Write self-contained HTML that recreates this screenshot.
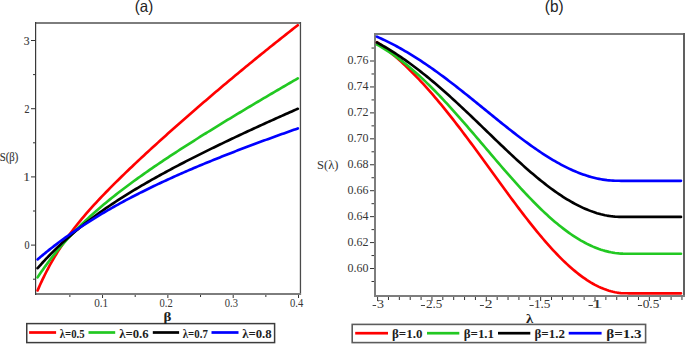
<!DOCTYPE html>
<html><head><meta charset="utf-8"><style>
html,body{margin:0;padding:0;background:#fff;}
body{width:685px;height:344px;overflow:hidden;}
svg{display:block;}
path{fill:none;stroke-width:2.65;stroke-linejoin:round;stroke-linecap:round;}
</style></head><body>
<svg width="685" height="344" viewBox="0 0 685 344">
<rect width="685" height="344" fill="#fff"/>
<rect x="35" y="22" width="266" height="2" fill="#7d7d7d"/>
<rect x="299.8" y="22" width="1.3" height="273" fill="#4a4a4a"/>
<rect x="35" y="293" width="266" height="2" fill="#7d7d7d"/>
<rect x="35" y="22" width="1.2" height="273" fill="#3a3a3a"/>
<rect x="33.0" y="278.70" width="2.0" height="1" fill="#333333"/>
<rect x="31.0" y="244.60" width="4.0" height="1" fill="#333333"/>
<rect x="33.0" y="210.50" width="2.0" height="1" fill="#333333"/>
<rect x="31.0" y="176.40" width="4.0" height="1" fill="#333333"/>
<rect x="33.0" y="142.30" width="2.0" height="1" fill="#333333"/>
<rect x="31.0" y="108.20" width="4.0" height="1" fill="#333333"/>
<rect x="33.0" y="74.10" width="2.0" height="1" fill="#333333"/>
<rect x="31.0" y="40.00" width="4.0" height="1" fill="#333333"/>
<rect x="69.37" y="295" width="1" height="2" fill="#333333"/>
<rect x="102.03" y="295" width="1" height="3" fill="#333333"/>
<rect x="134.69" y="295" width="1" height="2" fill="#333333"/>
<rect x="167.36" y="295" width="1" height="3" fill="#333333"/>
<rect x="200.02" y="295" width="1" height="2" fill="#333333"/>
<rect x="232.69" y="295" width="1" height="3" fill="#333333"/>
<rect x="265.35" y="295" width="1" height="2" fill="#333333"/>
<rect x="298.02" y="295" width="1" height="3" fill="#333333"/>
<rect x="374" y="33" width="311" height="2" fill="#7d7d7d"/>
<rect x="683" y="33" width="2" height="264" fill="#606060"/>
<rect x="374" y="295" width="311" height="2" fill="#7d7d7d"/>
<rect x="374" y="33" width="2" height="264" fill="#7d7d7d"/>
<rect x="371.5" y="280.99" width="2.5" height="1" fill="#333333"/>
<rect x="370.0" y="268.02" width="4.0" height="1" fill="#333333"/>
<rect x="371.5" y="255.05" width="2.5" height="1" fill="#333333"/>
<rect x="370.0" y="242.08" width="4.0" height="1" fill="#333333"/>
<rect x="371.5" y="229.11" width="2.5" height="1" fill="#333333"/>
<rect x="370.0" y="216.14" width="4.0" height="1" fill="#333333"/>
<rect x="371.5" y="203.17" width="2.5" height="1" fill="#333333"/>
<rect x="370.0" y="190.20" width="4.0" height="1" fill="#333333"/>
<rect x="371.5" y="177.23" width="2.5" height="1" fill="#333333"/>
<rect x="370.0" y="164.26" width="4.0" height="1" fill="#333333"/>
<rect x="371.5" y="151.29" width="2.5" height="1" fill="#333333"/>
<rect x="370.0" y="138.32" width="4.0" height="1" fill="#333333"/>
<rect x="371.5" y="125.35" width="2.5" height="1" fill="#333333"/>
<rect x="370.0" y="112.38" width="4.0" height="1" fill="#333333"/>
<rect x="371.5" y="99.41" width="2.5" height="1" fill="#333333"/>
<rect x="370.0" y="86.44" width="4.0" height="1" fill="#333333"/>
<rect x="371.5" y="73.47" width="2.5" height="1" fill="#333333"/>
<rect x="370.0" y="60.50" width="4.0" height="1" fill="#333333"/>
<rect x="371.5" y="47.53" width="2.5" height="1" fill="#333333"/>
<rect x="377.10" y="297" width="1" height="4" fill="#333333"/>
<rect x="387.97" y="297" width="1" height="3" fill="#333333"/>
<rect x="398.84" y="297" width="1" height="3" fill="#333333"/>
<rect x="409.71" y="297" width="1" height="3" fill="#333333"/>
<rect x="420.58" y="297" width="1" height="3" fill="#333333"/>
<rect x="431.45" y="297" width="1" height="4" fill="#333333"/>
<rect x="442.32" y="297" width="1" height="3" fill="#333333"/>
<rect x="453.19" y="297" width="1" height="3" fill="#333333"/>
<rect x="464.06" y="297" width="1" height="3" fill="#333333"/>
<rect x="474.93" y="297" width="1" height="3" fill="#333333"/>
<rect x="485.80" y="297" width="1" height="4" fill="#333333"/>
<rect x="496.67" y="297" width="1" height="3" fill="#333333"/>
<rect x="507.54" y="297" width="1" height="3" fill="#333333"/>
<rect x="518.41" y="297" width="1" height="3" fill="#333333"/>
<rect x="529.28" y="297" width="1" height="3" fill="#333333"/>
<rect x="540.15" y="297" width="1" height="4" fill="#333333"/>
<rect x="551.02" y="297" width="1" height="3" fill="#333333"/>
<rect x="561.89" y="297" width="1" height="3" fill="#333333"/>
<rect x="572.76" y="297" width="1" height="3" fill="#333333"/>
<rect x="583.63" y="297" width="1" height="3" fill="#333333"/>
<rect x="594.50" y="297" width="1" height="4" fill="#333333"/>
<rect x="605.37" y="297" width="1" height="3" fill="#333333"/>
<rect x="616.24" y="297" width="1" height="3" fill="#333333"/>
<rect x="627.11" y="297" width="1" height="3" fill="#333333"/>
<rect x="637.98" y="297" width="1" height="3" fill="#333333"/>
<rect x="648.85" y="297" width="1" height="4" fill="#333333"/>
<rect x="659.72" y="297" width="1" height="3" fill="#333333"/>
<rect x="670.59" y="297" width="1" height="3" fill="#333333"/>
<rect x="681.46" y="297" width="1" height="3" fill="#333333"/>
<path d="M37.60 290.50L38.62 288.13L39.64 285.82L40.65 283.56L41.67 281.35L42.69 279.19L43.71 277.07L44.73 275.00L45.75 272.97L46.76 270.98L47.78 269.03L48.80 267.12L49.82 265.24L50.84 263.40L51.85 261.60L52.87 259.82L53.89 258.08L54.91 256.37L55.93 254.69L56.95 253.03L57.96 251.40L58.98 249.80L60.00 248.22L62.00 245.19L64.00 242.24L65.99 239.37L67.99 236.58L69.99 233.85L71.99 231.19L73.99 228.59L75.99 226.04L77.98 223.54L79.98 221.09L81.98 218.68L83.98 216.31L85.98 213.98L87.98 211.68L89.97 209.42L91.97 207.19L93.97 204.98L95.97 202.81L97.97 200.65L99.97 198.52L101.96 196.42L103.96 194.33L105.96 192.26L107.96 190.21L109.96 188.18L111.96 186.16L113.95 184.16L115.95 182.17L117.95 180.19L119.95 178.23L121.95 176.28L123.95 174.34L125.94 172.41L127.94 170.49L129.94 168.58L131.94 166.67L133.94 164.78L135.94 162.90L137.93 161.02L139.93 159.15L141.93 157.29L143.93 155.43L145.93 153.58L147.93 151.74L149.92 149.90L151.92 148.07L153.92 146.24L155.92 144.42L157.92 142.61L159.92 140.80L161.91 138.99L163.91 137.19L165.91 135.40L167.91 133.61L169.91 131.82L171.91 130.04L173.90 128.27L175.90 126.49L177.90 124.73L179.90 122.96L181.90 121.20L183.90 119.45L185.89 117.69L187.89 115.95L189.89 114.20L191.89 112.46L193.89 110.72L195.89 108.99L197.88 107.26L199.88 105.54L201.88 103.82L203.88 102.10L205.88 100.38L207.88 98.67L209.87 96.96L211.87 95.26L213.87 93.56L215.87 91.86L217.87 90.17L219.87 88.48L221.86 86.79L223.86 85.11L225.86 83.43L227.86 81.75L229.86 80.08L231.86 78.41L233.85 76.75L235.85 75.08L237.85 73.42L239.85 71.77L241.85 70.12L243.85 68.47L245.84 66.82L247.84 65.18L249.84 63.54L251.84 61.90L253.84 60.27L255.84 58.64L257.83 57.02L259.83 55.39L261.83 53.77L263.83 52.16L265.83 50.55L267.83 48.94L269.82 47.33L271.82 45.73L273.82 44.13L275.82 42.53L277.82 40.94L279.82 39.35L281.81 37.76L283.81 36.18L285.81 34.60L287.81 33.02L289.81 31.45L291.81 29.88L293.80 28.32L295.80 26.75L297.80 25.19" stroke="#ff0000"/>
<path d="M37.60 277.38L38.62 275.84L39.64 274.33L40.65 272.83L41.67 271.35L42.69 269.89L43.71 268.45L44.73 267.02L45.75 265.61L46.76 264.22L47.78 262.84L48.80 261.48L49.82 260.14L50.84 258.81L51.85 257.49L52.87 256.19L53.89 254.91L54.91 253.64L55.93 252.38L56.95 251.13L57.96 249.90L58.98 248.68L60.00 247.48L62.00 245.15L64.00 242.86L65.99 240.62L67.99 238.42L69.99 236.26L71.99 234.14L73.99 232.05L75.99 230.00L77.98 227.99L79.98 226.01L81.98 224.05L83.98 222.13L85.98 220.24L87.98 218.37L89.97 216.54L91.97 214.72L93.97 212.93L95.97 211.17L97.97 209.43L99.97 207.70L101.96 206.00L103.96 204.32L105.96 202.66L107.96 201.02L109.96 199.39L111.96 197.79L113.95 196.19L115.95 194.62L117.95 193.06L119.95 191.51L121.95 189.97L123.95 188.46L125.94 186.95L127.94 185.45L129.94 183.97L131.94 182.50L133.94 181.04L135.94 179.59L137.93 178.15L139.93 176.72L141.93 175.30L143.93 173.89L145.93 172.48L147.93 171.09L149.92 169.70L151.92 168.33L153.92 166.95L155.92 165.59L157.92 164.23L159.92 162.88L161.91 161.54L163.91 160.20L165.91 158.87L167.91 157.55L169.91 156.23L171.91 154.91L173.90 153.60L175.90 152.30L177.90 151.00L179.90 149.70L181.90 148.42L183.90 147.13L185.89 145.85L187.89 144.57L189.89 143.30L191.89 142.03L193.89 140.76L195.89 139.50L197.88 138.25L199.88 136.99L201.88 135.74L203.88 134.49L205.88 133.25L207.88 132.00L209.87 130.77L211.87 129.53L213.87 128.30L215.87 127.07L217.87 125.84L219.87 124.61L221.86 123.39L223.86 122.17L225.86 120.95L227.86 119.74L229.86 118.53L231.86 117.32L233.85 116.11L235.85 114.90L237.85 113.70L239.85 112.50L241.85 111.29L243.85 110.10L245.84 108.90L247.84 107.71L249.84 106.51L251.84 105.32L253.84 104.13L255.84 102.95L257.83 101.76L259.83 100.58L261.83 99.40L263.83 98.22L265.83 97.04L267.83 95.86L269.82 94.68L271.82 93.51L273.82 92.34L275.82 91.17L277.82 90.00L279.82 88.83L281.81 87.66L283.81 86.50L285.81 85.33L287.81 84.17L289.81 83.01L291.81 81.85L293.80 80.69L295.80 79.54L297.80 78.38" stroke="#22c822"/>
<path d="M37.60 268.22L38.62 267.05L39.64 265.90L40.65 264.76L41.67 263.63L42.69 262.51L43.71 261.40L44.73 260.30L45.75 259.21L46.76 258.13L47.78 257.06L48.80 256.00L49.82 254.96L50.84 253.92L51.85 252.88L52.87 251.86L53.89 250.85L54.91 249.85L55.93 248.85L56.95 247.87L57.96 246.89L58.98 245.92L60.00 244.96L62.00 243.09L64.00 241.26L65.99 239.45L67.99 237.67L69.99 235.92L71.99 234.20L73.99 232.50L75.99 230.83L77.98 229.18L79.98 227.55L81.98 225.95L83.98 224.36L85.98 222.80L87.98 221.26L89.97 219.74L91.97 218.24L93.97 216.75L95.97 215.29L97.97 213.84L99.97 212.41L101.96 210.99L103.96 209.59L105.96 208.21L107.96 206.84L109.96 205.48L111.96 204.14L113.95 202.82L115.95 201.50L117.95 200.20L119.95 198.91L121.95 197.64L123.95 196.37L125.94 195.12L127.94 193.88L129.94 192.64L131.94 191.42L133.94 190.21L135.94 189.01L137.93 187.82L139.93 186.63L141.93 185.46L143.93 184.29L145.93 183.14L147.93 181.99L149.92 180.85L151.92 179.71L153.92 178.59L155.92 177.47L157.92 176.36L159.92 175.25L161.91 174.15L163.91 173.06L165.91 171.98L167.91 170.90L169.91 169.82L171.91 168.76L173.90 167.69L175.90 166.64L177.90 165.59L179.90 164.54L181.90 163.50L183.90 162.46L185.89 161.43L187.89 160.41L189.89 159.39L191.89 158.37L193.89 157.36L195.89 156.35L197.88 155.34L199.88 154.34L201.88 153.35L203.88 152.35L205.88 151.36L207.88 150.38L209.87 149.40L211.87 148.42L213.87 147.44L215.87 146.47L217.87 145.50L219.87 144.54L221.86 143.57L223.86 142.61L225.86 141.66L227.86 140.70L229.86 139.75L231.86 138.81L233.85 137.86L235.85 136.92L237.85 135.98L239.85 135.04L241.85 134.11L243.85 133.17L245.84 132.24L247.84 131.31L249.84 130.39L251.84 129.47L253.84 128.54L255.84 127.63L257.83 126.71L259.83 125.79L261.83 124.88L263.83 123.97L265.83 123.06L267.83 122.16L269.82 121.25L271.82 120.35L273.82 119.45L275.82 118.55L277.82 117.65L279.82 116.76L281.81 115.86L283.81 114.97L285.81 114.08L287.81 113.19L289.81 112.30L291.81 111.42L293.80 110.53L295.80 109.65L297.80 108.77" stroke="#000000"/>
<path d="M37.60 259.40L38.62 258.53L39.64 257.67L40.65 256.81L41.67 255.96L42.69 255.12L43.71 254.28L44.73 253.44L45.75 252.61L46.76 251.79L47.78 250.97L48.80 250.16L49.82 249.35L50.84 248.55L51.85 247.75L52.87 246.96L53.89 246.17L54.91 245.38L55.93 244.61L56.95 243.83L57.96 243.06L58.98 242.30L60.00 241.54L62.00 240.06L64.00 238.60L65.99 237.16L67.99 235.73L69.99 234.32L71.99 232.92L73.99 231.54L75.99 230.18L77.98 228.83L79.98 227.49L81.98 226.17L83.98 224.87L85.98 223.57L87.98 222.29L89.97 221.03L91.97 219.77L93.97 218.53L95.97 217.30L97.97 216.09L99.97 214.88L101.96 213.69L103.96 212.51L105.96 211.34L107.96 210.18L109.96 209.03L111.96 207.89L113.95 206.76L115.95 205.64L117.95 204.54L119.95 203.44L121.95 202.35L123.95 201.27L125.94 200.20L127.94 199.14L129.94 198.08L131.94 197.04L133.94 196.00L135.94 194.97L137.93 193.95L139.93 192.94L141.93 191.94L143.93 190.94L145.93 189.95L147.93 188.97L149.92 187.99L151.92 187.02L153.92 186.06L155.92 185.11L157.92 184.16L159.92 183.22L161.91 182.28L163.91 181.35L165.91 180.43L167.91 179.51L169.91 178.60L171.91 177.69L173.90 176.79L175.90 175.90L177.90 175.01L179.90 174.12L181.90 173.24L183.90 172.37L185.89 171.50L187.89 170.64L189.89 169.78L191.89 168.92L193.89 168.07L195.89 167.23L197.88 166.38L199.88 165.55L201.88 164.71L203.88 163.89L205.88 163.06L207.88 162.24L209.87 161.42L211.87 160.61L213.87 159.80L215.87 159.00L217.87 158.19L219.87 157.40L221.86 156.60L223.86 155.81L225.86 155.02L227.86 154.24L229.86 153.46L231.86 152.68L233.85 151.90L235.85 151.13L237.85 150.36L239.85 149.60L241.85 148.83L243.85 148.07L245.84 147.31L247.84 146.56L249.84 145.81L251.84 145.06L253.84 144.31L255.84 143.57L257.83 142.82L259.83 142.09L261.83 141.35L263.83 140.61L265.83 139.88L267.83 139.15L269.82 138.42L271.82 137.70L273.82 136.97L275.82 136.25L277.82 135.53L279.82 134.82L281.81 134.10L283.81 133.39L285.81 132.68L287.81 131.97L289.81 131.26L291.81 130.56L293.80 129.85L295.80 129.15L297.80 128.45" stroke="#0000ff"/>
<path d="M377.00 42.24L379.00 43.67L381.00 45.12L383.00 46.62L385.00 48.15L387.00 49.71L389.00 51.31L391.00 52.95L393.00 54.62L395.00 56.32L397.00 58.06L399.00 59.84L401.00 61.64L403.00 63.49L405.00 65.36L407.00 67.27L409.00 69.21L411.00 71.19L413.00 73.20L415.00 75.24L417.00 77.31L419.00 79.41L421.00 81.54L423.00 83.71L425.00 85.90L427.00 88.12L429.00 90.38L431.00 92.66L433.00 94.96L435.00 97.30L437.00 99.66L439.00 102.05L441.00 104.46L443.00 106.89L445.00 109.36L447.00 111.84L449.00 114.34L451.00 116.87L453.00 119.42L455.00 121.99L457.00 124.57L459.00 127.18L461.00 129.80L463.00 132.43L465.00 135.09L467.00 137.75L469.00 140.44L471.00 143.13L473.00 145.83L475.00 148.55L477.00 151.27L479.00 154.01L481.00 156.75L483.00 159.49L485.00 162.24L487.00 165.00L489.00 167.76L491.00 170.51L493.00 173.27L495.00 176.03L497.00 178.79L499.00 181.54L501.00 184.29L503.00 187.04L505.00 189.78L507.00 192.50L509.00 195.22L511.00 197.93L513.00 200.63L515.00 203.31L517.00 205.98L519.00 208.64L521.00 211.27L523.00 213.89L525.00 216.49L527.00 219.06L529.00 221.62L531.00 224.15L533.00 226.65L535.00 229.13L537.00 231.58L539.00 234.01L541.00 236.40L543.00 238.76L545.00 241.09L547.00 243.38L549.00 245.63L551.00 247.85L553.00 250.04L555.00 252.18L557.00 254.28L559.00 256.34L561.00 258.35L563.00 260.32L565.00 262.25L567.00 264.13L569.00 265.96L571.00 267.74L573.00 269.47L575.00 271.14L577.00 272.77L579.00 274.34L581.00 275.85L583.00 277.31L585.00 278.71L587.00 280.06L589.00 281.34L591.00 282.57L593.00 283.73L595.00 284.83L597.00 285.86L599.00 286.84L601.00 287.74L603.00 288.58L605.00 289.36L607.00 290.07L609.00 290.71L611.00 291.28L613.00 291.78L615.00 292.21L617.00 292.57L619.00 292.86L621.00 293.07L623.00 293.22L625.00 293.29L627.00 293.30L629.00 293.30L631.00 293.30L633.00 293.30L635.00 293.30L637.00 293.30L639.00 293.30L641.00 293.30L643.00 293.30L645.00 293.30L647.00 293.30L649.00 293.30L651.00 293.30L653.00 293.30L655.00 293.30L657.00 293.30L659.00 293.30L661.00 293.30L663.00 293.30L665.00 293.30L667.00 293.30L669.00 293.30L671.00 293.30L673.00 293.30L675.00 293.30L677.00 293.30L679.00 293.30L681.00 293.30" stroke="#ff0000"/>
<path d="M377.00 44.58L379.00 45.69L381.00 46.84L383.00 48.03L385.00 49.25L387.00 50.51L389.00 51.81L391.00 53.15L393.00 54.52L395.00 55.93L397.00 57.38L399.00 58.86L401.00 60.38L403.00 61.93L405.00 63.52L407.00 65.14L409.00 66.79L411.00 68.48L413.00 70.20L415.00 71.95L417.00 73.73L419.00 75.54L421.00 77.38L423.00 79.25L425.00 81.15L427.00 83.08L429.00 85.03L431.00 87.01L433.00 89.01L435.00 91.04L437.00 93.10L439.00 95.18L441.00 97.27L443.00 99.39L445.00 101.54L447.00 103.70L449.00 105.88L451.00 108.07L453.00 110.29L455.00 112.52L457.00 114.77L459.00 117.03L461.00 119.30L463.00 121.59L465.00 123.88L467.00 126.19L469.00 128.51L471.00 130.83L473.00 133.17L475.00 135.51L477.00 137.85L479.00 140.20L481.00 142.55L483.00 144.90L485.00 147.26L487.00 149.61L489.00 151.97L491.00 154.32L493.00 156.66L495.00 159.01L497.00 161.35L499.00 163.68L501.00 166.00L503.00 168.32L505.00 170.62L507.00 172.91L509.00 175.20L511.00 177.47L513.00 179.72L515.00 181.96L517.00 184.18L519.00 186.39L521.00 188.58L523.00 190.74L525.00 192.89L527.00 195.01L529.00 197.12L531.00 199.19L533.00 201.25L535.00 203.28L537.00 205.28L539.00 207.25L541.00 209.19L543.00 211.11L545.00 212.99L547.00 214.84L549.00 216.66L551.00 218.44L553.00 220.19L555.00 221.91L557.00 223.58L559.00 225.23L561.00 226.83L563.00 228.39L565.00 229.91L567.00 231.40L569.00 232.84L571.00 234.23L573.00 235.59L575.00 236.90L577.00 238.17L579.00 239.39L581.00 240.57L583.00 241.69L585.00 242.78L587.00 243.81L589.00 244.80L591.00 245.73L593.00 246.62L595.00 247.45L597.00 248.24L599.00 248.98L601.00 249.66L603.00 250.29L605.00 250.87L607.00 251.39L609.00 251.87L611.00 252.29L613.00 252.65L615.00 252.96L617.00 253.22L619.00 253.42L621.00 253.57L623.00 253.66L625.00 253.70L627.00 253.70L629.00 253.70L631.00 253.70L633.00 253.70L635.00 253.70L637.00 253.70L639.00 253.70L641.00 253.70L643.00 253.70L645.00 253.70L647.00 253.70L649.00 253.70L651.00 253.70L653.00 253.70L655.00 253.70L657.00 253.70L659.00 253.70L661.00 253.70L663.00 253.70L665.00 253.70L667.00 253.70L669.00 253.70L671.00 253.70L673.00 253.70L675.00 253.70L677.00 253.70L679.00 253.70L681.00 253.70" stroke="#22c822"/>
<path d="M377.00 42.51L379.00 43.60L381.00 44.72L383.00 45.86L385.00 47.02L387.00 48.21L389.00 49.42L391.00 50.66L393.00 51.91L395.00 53.19L397.00 54.50L399.00 55.82L401.00 57.17L403.00 58.54L405.00 59.94L407.00 61.35L409.00 62.79L411.00 64.25L413.00 65.73L415.00 67.23L417.00 68.75L419.00 70.29L421.00 71.85L423.00 73.43L425.00 75.03L427.00 76.65L429.00 78.29L431.00 79.94L433.00 81.62L435.00 83.31L437.00 85.01L439.00 86.74L441.00 88.48L443.00 90.23L445.00 92.00L447.00 93.78L449.00 95.58L451.00 97.39L453.00 99.21L455.00 101.04L457.00 102.89L459.00 104.74L461.00 106.61L463.00 108.48L465.00 110.37L467.00 112.26L469.00 114.16L471.00 116.06L473.00 117.97L475.00 119.89L477.00 121.81L479.00 123.73L481.00 125.66L483.00 127.59L485.00 129.52L487.00 131.46L489.00 133.39L491.00 135.32L493.00 137.25L495.00 139.17L497.00 141.10L499.00 143.01L501.00 144.93L503.00 146.83L505.00 148.73L507.00 150.63L509.00 152.51L511.00 154.38L513.00 156.25L515.00 158.10L517.00 159.94L519.00 161.77L521.00 163.58L523.00 165.38L525.00 167.16L527.00 168.92L529.00 170.67L531.00 172.40L533.00 174.11L535.00 175.80L537.00 177.46L539.00 179.11L541.00 180.73L543.00 182.32L545.00 183.90L547.00 185.44L549.00 186.96L551.00 188.45L553.00 189.92L555.00 191.35L557.00 192.75L559.00 194.12L561.00 195.46L563.00 196.77L565.00 198.04L567.00 199.28L569.00 200.48L571.00 201.65L573.00 202.77L575.00 203.86L577.00 204.92L579.00 205.93L581.00 206.90L583.00 207.83L585.00 208.72L587.00 209.57L589.00 210.37L591.00 211.13L593.00 211.85L595.00 212.52L597.00 213.15L599.00 213.72L601.00 214.26L603.00 214.74L605.00 215.18L607.00 215.57L609.00 215.91L611.00 216.20L613.00 216.44L615.00 216.63L617.00 216.77L619.00 216.86L621.00 216.90L623.00 216.90L625.00 216.90L627.00 216.90L629.00 216.90L631.00 216.90L633.00 216.90L635.00 216.90L637.00 216.90L639.00 216.90L641.00 216.90L643.00 216.90L645.00 216.90L647.00 216.90L649.00 216.90L651.00 216.90L653.00 216.90L655.00 216.90L657.00 216.90L659.00 216.90L661.00 216.90L663.00 216.90L665.00 216.90L667.00 216.90L669.00 216.90L671.00 216.90L673.00 216.90L675.00 216.90L677.00 216.90L679.00 216.90L681.00 216.90" stroke="#000000"/>
<path d="M377.00 36.72L379.00 37.60L381.00 38.51L383.00 39.44L385.00 40.39L387.00 41.36L389.00 42.35L391.00 43.36L393.00 44.40L395.00 45.45L397.00 46.53L399.00 47.63L401.00 48.74L403.00 49.88L405.00 51.04L407.00 52.21L409.00 53.41L411.00 54.62L413.00 55.86L415.00 57.11L417.00 58.38L419.00 59.67L421.00 60.98L423.00 62.31L425.00 63.65L427.00 65.01L429.00 66.38L431.00 67.77L433.00 69.18L435.00 70.60L437.00 72.04L439.00 73.49L441.00 74.96L443.00 76.44L445.00 77.93L447.00 79.43L449.00 80.95L451.00 82.47L453.00 84.01L455.00 85.56L457.00 87.12L459.00 88.69L461.00 90.26L463.00 91.85L465.00 93.44L467.00 95.04L469.00 96.64L471.00 98.25L473.00 99.87L475.00 101.49L477.00 103.11L479.00 104.73L481.00 106.36L483.00 107.99L485.00 109.62L487.00 111.25L489.00 112.88L491.00 114.51L493.00 116.13L495.00 117.75L497.00 119.37L499.00 120.99L501.00 122.60L503.00 124.20L505.00 125.80L507.00 127.39L509.00 128.97L511.00 130.54L513.00 132.10L515.00 133.65L517.00 135.19L519.00 136.72L521.00 138.23L523.00 139.73L525.00 141.22L527.00 142.69L529.00 144.14L531.00 145.58L533.00 147.00L535.00 148.40L537.00 149.78L539.00 151.14L541.00 152.48L543.00 153.80L545.00 155.09L547.00 156.37L549.00 157.61L551.00 158.84L553.00 160.03L555.00 161.20L557.00 162.35L559.00 163.46L561.00 164.55L563.00 165.61L565.00 166.63L567.00 167.63L569.00 168.60L571.00 169.53L573.00 170.43L575.00 171.30L577.00 172.13L579.00 172.93L581.00 173.69L583.00 174.42L585.00 175.11L587.00 175.76L589.00 176.38L591.00 176.95L593.00 177.49L595.00 177.99L597.00 178.45L599.00 178.87L601.00 179.25L603.00 179.59L605.00 179.89L607.00 180.15L609.00 180.36L611.00 180.53L613.00 180.66L615.00 180.75L617.00 180.79L619.00 180.80L621.00 180.80L623.00 180.80L625.00 180.80L627.00 180.80L629.00 180.80L631.00 180.80L633.00 180.80L635.00 180.80L637.00 180.80L639.00 180.80L641.00 180.80L643.00 180.80L645.00 180.80L647.00 180.80L649.00 180.80L651.00 180.80L653.00 180.80L655.00 180.80L657.00 180.80L659.00 180.80L661.00 180.80L663.00 180.80L665.00 180.80L667.00 180.80L669.00 180.80L671.00 180.80L673.00 180.80L675.00 180.80L677.00 180.80L679.00 180.80L681.00 180.80" stroke="#0000ff"/>
<rect x="26.75" y="323.60" width="247.85" height="19.00" fill="none" stroke="#3c3c3c" stroke-width="1.5"/><rect x="29.1" y="331.15" width="27.0" height="2.7" fill="#ff0000"/><rect x="88.5" y="331.15" width="26.7" height="2.7" fill="#22c822"/><rect x="152.8" y="331.15" width="26.3" height="2.7" fill="#000000"/><rect x="211.5" y="331.15" width="27.0" height="2.7" fill="#0000ff"/>
<rect x="352.20" y="324.40" width="293.40" height="18.20" fill="none" stroke="#5c5c5c" stroke-width="1.6"/><rect x="355.2" y="331.85" width="32.8" height="2.7" fill="#ff0000"/><rect x="427.0" y="331.85" width="32.3" height="2.7" fill="#22c822"/><rect x="498.0" y="331.85" width="32.3" height="2.7" fill="#000000"/><rect x="568.7" y="331.85" width="32.9" height="2.7" fill="#0000ff"/>
<rect x="372.60" y="305.0" width="3.50" height="1.0" fill="#444"/>
<rect x="420.90" y="305.0" width="4.10" height="1.0" fill="#444"/>
<rect x="479.90" y="305.0" width="4.00" height="1.0" fill="#444"/>
<rect x="529.50" y="305.0" width="4.20" height="1.0" fill="#444"/>
<rect x="588.50" y="305.0" width="4.40" height="1.0" fill="#444"/>
<rect x="637.90" y="305.0" width="4.20" height="1.0" fill="#444"/>
<text x="134.82" y="11.84" textLength="18.36" lengthAdjust="spacingAndGlyphs" style="font-family:'Liberation Sans',sans-serif;font-weight:normal;font-size:16.50px;fill:#222">(a)</text>
<text x="544.82" y="11.84" textLength="18.80" lengthAdjust="spacingAndGlyphs" style="font-family:'Liberation Sans',sans-serif;font-weight:normal;font-size:16.50px;fill:#222">(b)</text>
<text x="-0.20" y="161.40" textLength="18.50" lengthAdjust="spacingAndGlyphs" style="font-family:'Liberation Serif',serif;font-weight:normal;font-size:11.50px;fill:#363636;stroke:#333;stroke-width:0.15px">S(&#946;)</text>
<text x="317.10" y="168.70" textLength="21.40" lengthAdjust="spacingAndGlyphs" style="font-family:'Liberation Serif',serif;font-weight:normal;font-size:11.50px;fill:#363636">S(&#955;)</text>
<text x="163.60" y="321.20" textLength="7.90" lengthAdjust="spacingAndGlyphs" style="font-family:'Liberation Serif',serif;font-weight:bold;font-size:13.00px;fill:#1e1e1e">&#946;</text>
<text x="526.10" y="323.40" textLength="7.20" lengthAdjust="spacingAndGlyphs" style="font-family:'Liberation Serif',serif;font-weight:bold;font-size:13.00px;fill:#1e1e1e">&#955;</text>
<text x="24.48" y="249.04" textLength="5.02" lengthAdjust="spacingAndGlyphs" style="font-family:'Liberation Serif',serif;font-weight:normal;font-size:12.00px;fill:#363636;stroke:#333;stroke-width:0.15px">0</text>
<text x="23.10" y="181.00" textLength="7.28" lengthAdjust="spacingAndGlyphs" style="font-family:'Liberation Serif',serif;font-weight:normal;font-size:12.00px;fill:#363636">1</text>
<text x="24.48" y="112.96" textLength="5.02" lengthAdjust="spacingAndGlyphs" style="font-family:'Liberation Serif',serif;font-weight:normal;font-size:12.00px;fill:#363636;stroke:#333;stroke-width:0.15px">2</text>
<text x="23.68" y="44.92" textLength="5.82" lengthAdjust="spacingAndGlyphs" style="font-family:'Liberation Serif',serif;font-weight:normal;font-size:12.00px;fill:#363636;stroke:#333;stroke-width:0.15px">3</text>
<text x="94.19" y="306.80" textLength="14.00" lengthAdjust="spacingAndGlyphs" style="font-family:'Liberation Serif',serif;font-weight:normal;font-size:12.00px;fill:#363636">0.1</text>
<text x="159.48" y="306.80" textLength="13.20" lengthAdjust="spacingAndGlyphs" style="font-family:'Liberation Serif',serif;font-weight:normal;font-size:12.00px;fill:#363636">0.2</text>
<text x="224.77" y="306.80" textLength="13.20" lengthAdjust="spacingAndGlyphs" style="font-family:'Liberation Serif',serif;font-weight:normal;font-size:12.00px;fill:#363636">0.3</text>
<text x="290.06" y="306.80" textLength="13.20" lengthAdjust="spacingAndGlyphs" style="font-family:'Liberation Serif',serif;font-weight:normal;font-size:12.00px;fill:#363636">0.4</text>
<text x="347.50" y="272.46" textLength="21.00" lengthAdjust="spacingAndGlyphs" style="font-family:'Liberation Serif',serif;font-weight:normal;font-size:12.00px;fill:#363636">0.60</text>
<text x="347.50" y="246.44" textLength="21.00" lengthAdjust="spacingAndGlyphs" style="font-family:'Liberation Serif',serif;font-weight:normal;font-size:12.00px;fill:#363636">0.62</text>
<text x="347.50" y="220.42" textLength="21.00" lengthAdjust="spacingAndGlyphs" style="font-family:'Liberation Serif',serif;font-weight:normal;font-size:12.00px;fill:#363636">0.64</text>
<text x="347.50" y="194.40" textLength="21.00" lengthAdjust="spacingAndGlyphs" style="font-family:'Liberation Serif',serif;font-weight:normal;font-size:12.00px;fill:#363636">0.66</text>
<text x="347.50" y="168.38" textLength="21.00" lengthAdjust="spacingAndGlyphs" style="font-family:'Liberation Serif',serif;font-weight:normal;font-size:12.00px;fill:#363636">0.68</text>
<text x="347.50" y="142.36" textLength="21.00" lengthAdjust="spacingAndGlyphs" style="font-family:'Liberation Serif',serif;font-weight:normal;font-size:12.00px;fill:#363636">0.70</text>
<text x="347.50" y="116.34" textLength="21.00" lengthAdjust="spacingAndGlyphs" style="font-family:'Liberation Serif',serif;font-weight:normal;font-size:12.00px;fill:#363636">0.72</text>
<text x="347.50" y="90.32" textLength="21.00" lengthAdjust="spacingAndGlyphs" style="font-family:'Liberation Serif',serif;font-weight:normal;font-size:12.00px;fill:#363636">0.74</text>
<text x="347.50" y="64.30" textLength="21.00" lengthAdjust="spacingAndGlyphs" style="font-family:'Liberation Serif',serif;font-weight:normal;font-size:12.00px;fill:#363636">0.76</text>
<text x="376.96" y="308.48" textLength="7.04" lengthAdjust="spacingAndGlyphs" style="font-family:'Liberation Serif',serif;font-weight:normal;font-size:12.00px;fill:#363636">3</text>
<text x="425.98" y="308.48" textLength="16.28" lengthAdjust="spacingAndGlyphs" style="font-family:'Liberation Serif',serif;font-weight:normal;font-size:12.00px;fill:#363636">2.5</text>
<text x="484.74" y="308.48" textLength="7.78" lengthAdjust="spacingAndGlyphs" style="font-family:'Liberation Serif',serif;font-weight:normal;font-size:12.00px;fill:#363636">2</text>
<text x="533.90" y="308.48" textLength="16.60" lengthAdjust="spacingAndGlyphs" style="font-family:'Liberation Serif',serif;font-weight:normal;font-size:12.00px;fill:#363636">1.5</text>
<text x="591.02" y="308.48" textLength="11.94" lengthAdjust="spacingAndGlyphs" style="font-family:'Liberation Serif',serif;font-weight:normal;font-size:12.00px;fill:#363636">1</text>
<text x="642.72" y="308.48" textLength="16.54" lengthAdjust="spacingAndGlyphs" style="font-family:'Liberation Serif',serif;font-weight:normal;font-size:12.00px;fill:#363636">0.5</text>
<text x="59.80" y="338.20" textLength="24.80" lengthAdjust="spacingAndGlyphs" style="font-family:'Liberation Serif',serif;font-weight:bold;font-size:11.50px;fill:#1e1e1e">&#955;=0.5</text>
<text x="119.20" y="338.20" textLength="29.40" lengthAdjust="spacingAndGlyphs" style="font-family:'Liberation Serif',serif;font-weight:bold;font-size:11.50px;fill:#1e1e1e">&#955;=0.6</text>
<text x="182.80" y="338.20" textLength="25.00" lengthAdjust="spacingAndGlyphs" style="font-family:'Liberation Serif',serif;font-weight:bold;font-size:11.50px;fill:#1e1e1e">&#955;=0.7</text>
<text x="242.20" y="338.20" textLength="29.40" lengthAdjust="spacingAndGlyphs" style="font-family:'Liberation Serif',serif;font-weight:bold;font-size:11.50px;fill:#1e1e1e">&#955;=0.8</text>
<text x="392.00" y="337.80" textLength="30.40" lengthAdjust="spacingAndGlyphs" style="font-family:'Liberation Serif',serif;font-weight:bold;font-size:11.50px;fill:#1e1e1e">&#946;=1.0</text>
<text x="463.70" y="337.80" textLength="30.40" lengthAdjust="spacingAndGlyphs" style="font-family:'Liberation Serif',serif;font-weight:bold;font-size:11.50px;fill:#1e1e1e">&#946;=1.1</text>
<text x="534.50" y="337.80" textLength="30.40" lengthAdjust="spacingAndGlyphs" style="font-family:'Liberation Serif',serif;font-weight:bold;font-size:11.50px;fill:#1e1e1e">&#946;=1.2</text>
<text x="606.20" y="337.80" textLength="35.40" lengthAdjust="spacingAndGlyphs" style="font-family:'Liberation Serif',serif;font-weight:bold;font-size:11.50px;fill:#1e1e1e">&#946;=1.3</text>
</svg>
</body></html>
